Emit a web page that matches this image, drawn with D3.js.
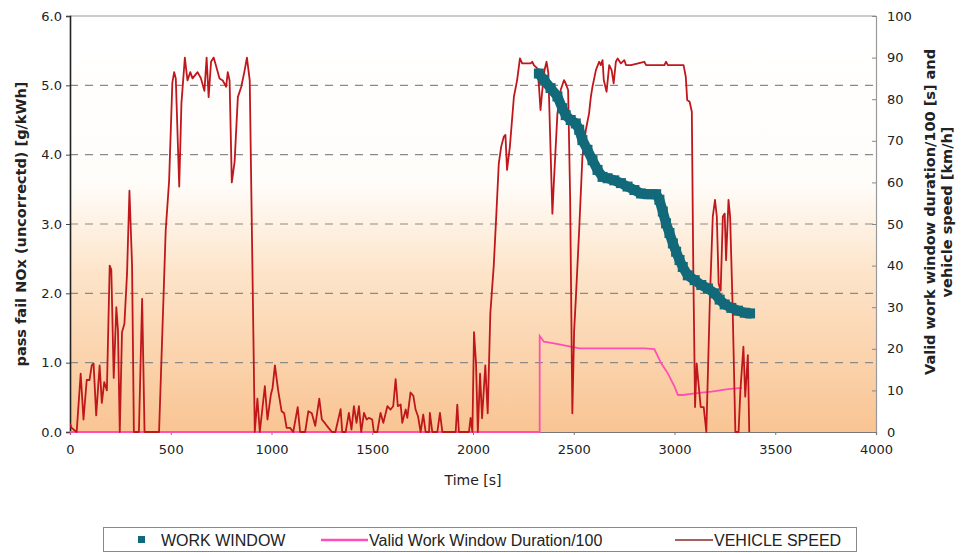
<!DOCTYPE html>
<html>
<head>
<meta charset="utf-8">
<script src="https://cdn.jsdelivr.net/npm/d3@7"></script>
<style>
  html, body { margin: 0; padding: 0; background: #ffffff; }
  svg text { font-family: "DejaVu Sans", Verdana, sans-serif; }
  svg .legend text { font-family: "Liberation Sans", Arial, sans-serif; }
</style>
</head>
<body>
<svg id="chart" width="964" height="553"></svg>
<script>
// Time axis ticks [s]
const timeTicks = [0, 500, 1000, 1500, 2000, 2500, 3000, 3500, 4000];
// Left axis ticks: pass/fail NOx [g/kWh]
const noxTicks = [0, 1, 2, 3, 4, 5, 6];
// Right axis ticks: duration/100 [s] and speed [km/h]
const rightTicks = [0, 10, 20, 30, 40, 50, 60, 70, 80, 90, 100];

// Vehicle speed trace [km/h]
const speedTime = [
  0, 8, 33, 53, 67, 83, 97, 108, 117, 130, 147, 158, 170, 183, 197, 205, 217, 230, 238, 247,
  258, 270, 283, 295, 308, 317, 342, 358, 370, 442, 475, 492, 508, 517, 525, 542, 553, 570, 583, 597,
  608, 633, 650, 667, 678, 688, 700, 713, 725, 742, 758, 775, 783, 792, 803, 817, 833, 850, 867, 878,
  892, 917, 930, 942, 967, 980, 997, 1005, 1017, 1033, 1050, 1063, 1075, 1092, 1108, 1130, 1142, 1167, 1183, 1200,
  1217, 1237, 1250, 1267, 1283, 1300, 1317, 1343, 1351, 1368, 1384, 1397, 1409, 1422, 1434, 1445, 1459, 1472, 1483, 1500,
  1508, 1525, 1541, 1555, 1575, 1591, 1604, 1616, 1627, 1641, 1649, 1666, 1674, 1690, 1704, 1715, 1727, 1740, 1753, 1765,
  1782, 1786, 1798, 1823, 1836, 1848, 1914, 1922, 1930, 1980, 1988, 1997, 2005, 2015, 2024, 2035, 2045, 2061, 2073, 2086,
  2103, 2116, 2128, 2140, 2153, 2161, 2169, 2183, 2203, 2219, 2233, 2244, 2286, 2294, 2302, 2319, 2327, 2335, 2344, 2355,
  2365, 2374, 2382, 2394, 2402, 2419, 2435, 2452, 2460, 2472, 2482, 2493, 2502, 2510, 2527, 2543, 2560, 2576, 2585, 2593,
  2610, 2626, 2634, 2643, 2649, 2663, 2676, 2688, 2698, 2709, 2718, 2734, 2751, 2759, 2784, 2850, 2859, 2950, 2958, 2967,
  3045, 3056, 3063, 3075, 3086, 3093, 3102, 3110, 3119, 3130, 3145, 3158, 3176, 3190, 3201, 3210, 3219, 3229, 3240, 3249,
  3256, 3268, 3276, 3288, 3302, 3318, 3327, 3342, 3351, 3364, 3371
];
const speedValue = [
  2, 1, 0, 14, 3, 12.5, 12.5, 16, 16.5, 4, 16, 7, 12, 10, 40, 39, 13, 30, 24.5, 0,
  24, 26, 38, 58, 40, 0, 0, 32, 0, 0, 48.5, 60.5, 84, 86.5, 85, 59, 79, 90, 84.5, 86.5,
  85, 86.5, 85, 82, 90, 80.5, 89, 90, 88, 85, 84.5, 83, 86.5, 84.5, 60, 65, 80.5, 83, 87, 90,
  84.5, 0, 8, 0, 11, 3, 9, 10.5, 16, 10, 5, 4.5, 1, 1, 0, 6, 0, 0, 5, 4.5,
  1.5, 8, 3, 2, 1, 0, 0, 5.5, 0, 0, 4.6, 0.6, 6.2, 2.2, 6.2, 0, 4.6, 3, 3.4, 3,
  0, 0, 4.6, 2.2, 6.2, 5.4, 6.2, 12.7, 6.2, 6.6, 2.2, 5.4, 3.4, 9.5, 8.7, 5.4, 3.8, 0, 4.2, 0,
  0, 4.6, 0, 0, 4.6, 0, 0, 6.6, 0, 0, 3.4, 0, 24, 16.5, 0, 14, 3.3, 16, 4.5, 28.5,
  40, 52.5, 64.6, 68.6, 71, 71.4, 63, 68.6, 80.6, 84.6, 89.8, 88.6, 88.6, 89, 88.2, 87.4, 83.4, 77.4, 82.2, 87,
  89, 86.2, 72.6, 52.5, 60.6, 76.6, 82.2, 84.6, 83.8, 82.2, 56.6, 4.5, 24.5, 31.7, 48.6, 66.2, 72.6, 76.6, 80.6, 83,
  87, 89, 88.2, 89.4, 84.6, 81.8, 88.2, 87, 83.8, 89, 89.8, 88.6, 89.4, 88.2, 88.2, 89, 88.2, 88.2, 89, 88.2,
  88.2, 85.4, 79.8, 79.4, 77, 40.5, 6, 16.5, 11.7, 6, 6, 0, 32.5, 51.8, 55.8, 51.8, 35.7, 34, 51.8, 52.5,
  41.3, 55.8, 51.8, 31, 0, 0, 10, 20.5, 8.5, 18.5, 0
];

// Valid work window duration / 100 [s]
const durationTime = [0, 2331, 2331, 2352, 2402, 2485, 2527, 2601, 2684, 2767, 2850, 2900, 2934, 2967, 3000, 3017, 3041, 3100, 3183, 3266, 3335];
const durationValue = [0, 0, 23.1, 21.7, 21.3, 20.5, 20.1, 20.1, 20.1, 20.1, 20.1, 19.9, 16.5, 14.1, 10.9, 8.9, 8.9, 9.3, 9.7, 10.3, 10.6];

// Pass/fail NOx over the moving work window [g/kWh]
const workTime = [
  2327, 2352, 2385, 2419, 2443, 2460, 2485, 2510, 2527, 2543, 2568, 2593, 2618, 2643, 2668, 2701, 2734, 2767, 2801, 2834,
  2867, 2909, 2925, 2942, 2958, 2975, 2992, 3008, 3025, 3041, 3066, 3100, 3133, 3166, 3199, 3224, 3249, 3282, 3315, 3349, 3375
];
const workNOx = [
  5.17, 5.08, 4.96, 4.84, 4.67, 4.57, 4.5, 4.45, 4.36, 4.21, 4.07, 3.92, 3.78, 3.68, 3.66, 3.63, 3.59, 3.54, 3.49, 3.44,
  3.43, 3.43, 3.35, 3.18, 3.01, 2.87, 2.72, 2.6, 2.48, 2.38, 2.26, 2.19, 2.12, 2.07, 2.0, 1.91, 1.84, 1.79, 1.75, 1.72, 1.71
];

const seriesNames = ["WORK WINDOW", "Valid Work Window Duration/100", "VEHICLE SPEED"];
const colors = { work: "#12697a", duration: "#ff4fb4", speed: "#c0171c" };

const svg = d3.select("#chart");
const plot = { left: 70, right: 876, top: 16, bottom: 432 };

const x = d3.scaleLinear().domain([0, 4000]).range([plot.left, plot.right]);
const yL = d3.scaleLinear().domain([0, 6]).range([plot.bottom, plot.top]);
const yR = d3.scaleLinear().domain([0, 100]).range([plot.bottom, plot.top]);

// Plot background: white fading to peach toward the bottom
const defs = svg.append("defs");
const grad = defs.append("linearGradient").attr("id", "bg").attr("x1", 0).attr("y1", 0).attr("x2", 0).attr("y2", 1);
grad.append("stop").attr("offset", "0%").attr("stop-color", "#ffffff");
grad.append("stop").attr("offset", "40%").attr("stop-color", "#fffdfa");
grad.append("stop").attr("offset", "62%").attr("stop-color", "#fde4c9");
grad.append("stop").attr("offset", "100%").attr("stop-color", "#f9c493");
svg.append("rect")
  .attr("x", plot.left).attr("y", plot.top)
  .attr("width", plot.right - plot.left).attr("height", plot.bottom - plot.top)
  .attr("fill", "url(#bg)");

// Horizontal dashed gridlines
svg.append("g").selectAll("line")
  .data(noxTicks.filter(d => d > 0 && d < 6))
  .join("line")
  .attr("x1", plot.left).attr("x2", plot.right)
  .attr("y1", d => yL(d)).attr("y2", d => yL(d))
  .attr("stroke", "#8a8a8a").attr("stroke-width", 1.2)
  .attr("stroke-dasharray", "8,7");

// Frame: top border
svg.append("line").attr("x1", plot.left).attr("x2", plot.right).attr("y1", plot.top).attr("y2", plot.top)
  .attr("stroke", "#9a9a9a").attr("stroke-width", 1.2);

// Left axis
const leftAxis = d3.axisLeft(yL).tickValues(noxTicks).tickFormat(d3.format(".1f")).tickSize(4).tickPadding(4);
const gl = svg.append("g").attr("transform", `translate(${plot.left},0)`).call(leftAxis);
gl.select(".domain").attr("stroke", "#222").attr("stroke-width", 1.6);
gl.selectAll(".tick line").attr("stroke", "#444");
gl.selectAll(".tick text").attr("font-size", 13).attr("fill", "#222");

// Right axis
const rightAxis = d3.axisRight(yR).tickValues(rightTicks).tickSize(-4).tickPadding(11);
const gr = svg.append("g").attr("transform", `translate(${plot.right},0)`).call(rightAxis);
gr.select(".domain").attr("stroke", "#999").attr("stroke-width", 1.2);
gr.selectAll(".tick line").attr("stroke", "#888");
gr.selectAll(".tick text").attr("font-size", 13).attr("fill", "#222");

// Bottom axis
const bottomAxis = d3.axisBottom(x).tickValues(timeTicks).tickFormat(d3.format("d")).tickSize(3).tickPadding(10);
const gb = svg.append("g").attr("transform", `translate(0,${plot.bottom})`).call(bottomAxis);
gb.select(".domain").attr("stroke", "#777").attr("stroke-width", 1.2);
gb.selectAll(".tick line").attr("stroke", "#777");
gb.selectAll(".tick text").attr("font-size", 13).attr("fill", "#222");

// Axis titles
svg.append("text")
  .attr("transform", `translate(26,224) rotate(-90)`)
  .attr("text-anchor", "middle").attr("font-size", 14.5).attr("font-weight", "bold").attr("fill", "#222")
  .text("pass fail NOx (uncorrectd) [g/kWh]");
const rt = svg.append("text")
  .attr("transform", `translate(935,212) rotate(-90)`)
  .attr("text-anchor", "middle").attr("font-size", 14.5).attr("font-weight", "bold").attr("fill", "#222");
rt.append("tspan").attr("x", 0).attr("dy", 0).text("Valid work window duration/100 [s] and");
rt.append("tspan").attr("x", 0).attr("dy", 17).text("vehicle speed [km/h]");
svg.append("text")
  .attr("x", x(2000)).attr("y", 485)
  .attr("text-anchor", "middle").attr("font-size", 14).attr("fill", "#222")
  .text("Time [s]");

// Series
const speedData = speedTime.map((t, i) => [t, speedValue[i]]);
const durationData = durationTime.map((t, i) => [t, durationValue[i]]);
const workData = workTime.map((t, i) => [t, workNOx[i]]);

const clip = defs.append("clipPath").attr("id", "plotclip");
clip.append("rect").attr("x", plot.left).attr("y", plot.top - 2)
  .attr("width", plot.right - plot.left).attr("height", plot.bottom - plot.top + 3);

const g = svg.append("g").attr("clip-path", "url(#plotclip)");

g.append("path").datum(durationData)
  .attr("fill", "none").attr("stroke", colors.duration).attr("stroke-width", 1.8)
  .attr("d", d3.line().x(d => x(d[0])).y(d => yR(d[1])));

g.append("path").datum(speedData)
  .attr("fill", "none").attr("stroke", colors.speed).attr("stroke-width", 1.8)
  .attr("stroke-linejoin", "round")
  .attr("d", d3.line().x(d => x(d[0])).y(d => yR(d[1])));

g.append("path").datum(workData)
  .attr("fill", "none").attr("stroke", colors.work).attr("stroke-width", 10)
  .attr("stroke-linejoin", "round").attr("stroke-linecap", "round")
  .attr("d", d3.line().x(d => x(d[0])).y(d => yL(d[1])));
g.append("g").selectAll("rect").data(workData).join("rect")
  .attr("x", d => x(d[0]) - 5).attr("y", d => yL(d[1]) - 5)
  .attr("width", 10).attr("height", 10).attr("fill", colors.work);

// Legend
const lg = svg.append("g").attr("class", "legend");
lg.append("rect").attr("x", 103.5).attr("y", 527.5).attr("width", 753).attr("height", 24)
  .attr("fill", "#fff").attr("stroke", "#888").attr("stroke-width", 1);
lg.append("rect").attr("x", 138).attr("y", 536).attr("width", 7).attr("height", 7).attr("fill", colors.work);
lg.append("text").attr("x", 161).attr("y", 545.5).attr("font-size", 16).attr("fill", "#222").text(seriesNames[0]);
lg.append("line").attr("x1", 321).attr("x2", 368).attr("y1", 540).attr("y2", 540)
  .attr("stroke", colors.duration).attr("stroke-width", 2.5);
lg.append("text").attr("x", 369).attr("y", 545.5).attr("font-size", 16).attr("fill", "#222").text(seriesNames[1]);
lg.append("line").attr("x1", 675).attr("x2", 713).attr("y1", 540).attr("y2", 540)
  .attr("stroke", "#8b2a2a").attr("stroke-width", 1.5);
lg.append("text").attr("x", 714).attr("y", 545.5).attr("font-size", 16).attr("fill", "#222").text(seriesNames[2]);
</script>
</body>
</html>
